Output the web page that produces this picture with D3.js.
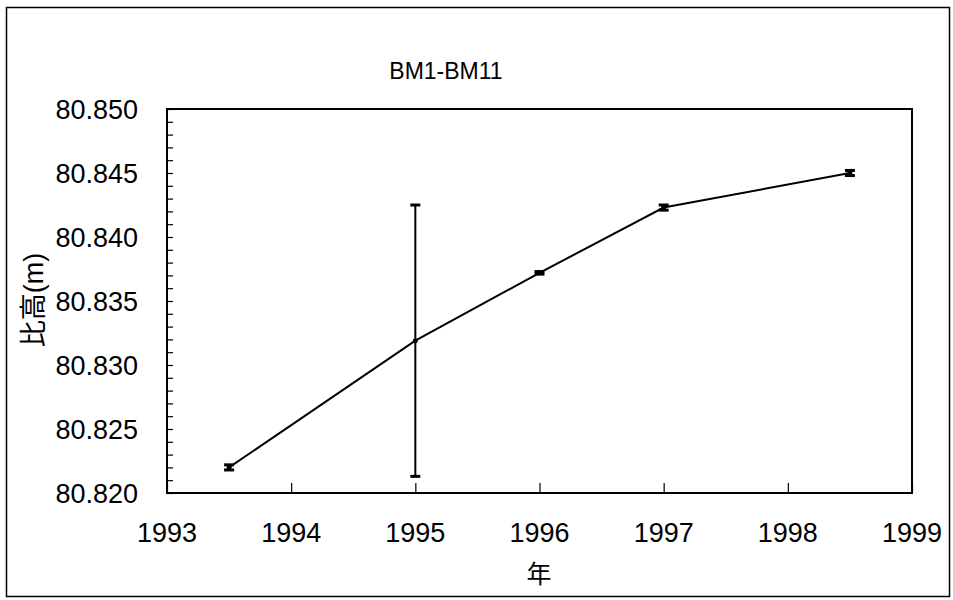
<!DOCTYPE html>
<html><head><meta charset="utf-8">
<script src="https://cdn.jsdelivr.net/npm/d3@7"></script>
<style>body{margin:0;background:#fff}svg text{font-family:Arial,"Liberation Sans","Noto Sans CJK JP",sans-serif;fill:#000}</style>
</head><body><svg id="c" width="953" height="600"></svg>
<script>
const years = [1993.5, 1995, 1996, 1997, 1998.5];
const heights = [80.8220, 80.8319, 80.8372, 80.8423, 80.8450];
const errLow = [80.8218, 80.8213, 80.8371, 80.8421, 80.8448];
const errHigh = [80.8222, 80.8425, 80.8373, 80.8425, 80.8452];
const xTicks = [1993, 1994, 1995, 1996, 1997, 1998, 1999];
const yTicks = [80.820, 80.825, 80.830, 80.835, 80.840, 80.845, 80.850];
const title = "BM1-BM11", xTitle = "年", yTitle = "比高(m)";

const svg = d3.select("#c");
const L = 167, R = 912, T = 109, B = 493;
const x = d3.scaleLinear().domain([1993, 1999]).range([L, R]);
const y = d3.scaleLinear().domain([80.820, 80.850]).range([B, T]);

svg.append("rect").attr("x", 6.5).attr("y", 7.5).attr("width", 943).attr("height", 589)
  .attr("fill", "none").attr("stroke", "#000").attr("stroke-width", 1.5);
svg.append("rect").attr("x", L).attr("y", T).attr("width", R - L).attr("height", B - T)
  .attr("fill", "none").attr("stroke", "#000").attr("stroke-width", 2);

// y axis: inward ticks, minor every 0.001
const yAx = d3.axisRight(y).tickValues(d3.range(0, 31).map(i => 80.820 + i * 0.001)).tickSize(6).tickFormat("");
svg.append("g").attr("transform", `translate(${L},0)`).call(yAx)
  .call(g => g.select(".domain").remove())
  .call(g => g.selectAll("line").attr("stroke", "#000").attr("stroke-width", 1.2));
svg.append("g").selectAll("text").data(yTicks).join("text")
  .attr("x", 138).attr("y", d => y(d)).attr("dy", "0.36em").attr("text-anchor", "end")
  .attr("font-size", 27).text(d => d.toFixed(3));

// x axis: ticks upward inside
const xAx = d3.axisTop(x).tickValues(xTicks).tickSize(10).tickFormat("");
svg.append("g").attr("transform", `translate(0,${B})`).call(xAx)
  .call(g => g.select(".domain").remove())
  .call(g => g.selectAll("line").attr("stroke", "#000").attr("stroke-width", 1.2));
svg.append("g").selectAll("text").data(xTicks).join("text")
  .attr("x", d => x(d)).attr("y", 542).attr("text-anchor", "middle")
  .attr("font-size", 27).text(d => d);

svg.append("text").attr("x", 446).attr("y", 79).attr("text-anchor", "middle").attr("font-size", 23).text(title);
svg.append("text").attr("x", 539).attr("y", 583).attr("text-anchor", "middle").attr("font-size", 25).text(xTitle);
svg.append("text").attr("transform", "translate(43,300) rotate(-90)").attr("text-anchor", "middle").attr("font-size", 27).text(yTitle);

const data = years.map((d, i) => ({x: d, v: heights[i], lo: errLow[i], hi: errHigh[i]}));
svg.append("path").datum(data).attr("fill", "none").attr("stroke", "#000").attr("stroke-width", 2)
  .attr("d", d3.line().x(d => x(d.x)).y(d => y(d.v)));
const eb = svg.append("g").selectAll("g").data(data).join("g");
eb.append("line").attr("x1", d => x(d.x)).attr("x2", d => x(d.x)).attr("y1", d => y(d.lo)).attr("y2", d => y(d.hi))
  .attr("stroke", "#000").attr("stroke-width", 2);
eb.append("line").attr("x1", d => x(d.x) - 5).attr("x2", d => x(d.x) + 5).attr("y1", d => y(d.lo)).attr("y2", d => y(d.lo))
  .attr("stroke", "#000").attr("stroke-width", 3);
eb.append("line").attr("x1", d => x(d.x) - 5).attr("x2", d => x(d.x) + 5).attr("y1", d => y(d.hi)).attr("y2", d => y(d.hi))
  .attr("stroke", "#000").attr("stroke-width", 3);
eb.append("circle").attr("cx", d => x(d.x)).attr("cy", d => y(d.v)).attr("r", 2.5).attr("fill", "#000");
</script></body></html>
